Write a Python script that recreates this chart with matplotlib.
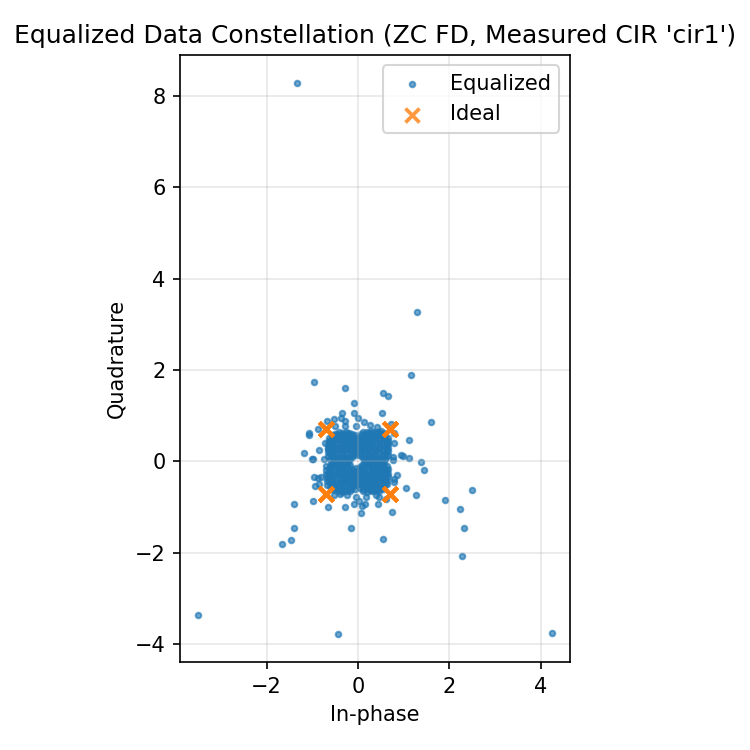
import matplotlib
matplotlib.use("Agg")
import matplotlib.pyplot as plt

# Scattered equalized symbols
outer = [(-1.34,8.29),(1.30,3.27),(1.17,1.89),(-0.96,1.74),(-0.29,1.61),(0.54,1.50),(0.67,1.44),(-0.09,1.28),
 (-0.35,1.06),(-0.09,1.05),(0.52,1.06),(0.00,0.95),(1.59,0.85),(-0.37,0.95),(-0.53,0.92),(-0.29,0.88),(-0.68,0.88),
 (0.13,0.85),(0.27,0.79),(0.41,0.76),(0.72,0.81),(-0.87,0.71),(-1.07,0.63),(-1.07,0.58),(-0.03,0.77),(-0.29,0.77),
 (-0.51,0.77),(0.79,0.63),(1.11,0.47),(0.79,0.39),(-0.73,0.39),(-1.18,0.19),(-0.85,0.25),(-1.00,0.04),(-0.98,0.06),
 (-0.74,0.04),(-0.66,0.26),(0.94,0.13),(0.98,0.12),(1.13,0.08),(0.76,0.10),(0.76,0.03),(1.39,-0.01),(1.44,-0.18),
 (0.67,-0.16),(-0.69,-0.10),(-0.95,-0.34),(-0.80,-0.34),(-0.87,-0.36),(0.85,-0.31),(0.79,-0.39),(0.79,-0.45),
 (-0.94,-0.55),(1.06,-0.58),(1.28,-0.73),(1.90,-0.85),(-1.40,-0.93),(-0.98,-0.88),(-0.66,-0.99),(-0.29,-0.99),
 (-0.09,-0.94),(0.06,-1.14),(0.15,-0.94),(0.08,-0.98),(0.43,-0.94),(0.74,-1.12),(-1.40,-1.47),(-0.16,-1.47),
 (0.56,-1.70),(-0.53,-0.74),(-0.40,-0.72),(-0.24,-0.74),(-0.04,-0.79),(0.03,-0.87),(0.18,-0.79),(0.40,-0.74),
 (0.47,-0.79),(0.61,-0.83),(-0.84,-0.50),(2.28,-2.08),(2.32,-1.46),(2.24,-1.05),(2.50,-0.62),(-1.67,-1.80),
 (-1.47,-1.73),(-3.50,-3.37),(-0.43,-3.79),(4.25,-3.76)]

# Dense clouds around the four constellation points
cloud_q1 = [(0.09,0.10),(0.17,0.08),(0.25,0.11),(0.32,0.09),(0.40,0.10),(0.47,0.08),(0.55,0.11),(0.62,0.09),
 (0.07,0.17),(0.15,0.18),(0.23,0.16),(0.30,0.18),(0.38,0.17),(0.46,0.18),(0.53,0.16),(0.61,0.18),
 (0.09,0.25),(0.16,0.24),(0.24,0.26),(0.32,0.24),(0.39,0.25),(0.47,0.26),(0.55,0.24),(0.62,0.26),
 (0.07,0.32),(0.15,0.33),(0.23,0.31),(0.31,0.33),(0.38,0.32),(0.46,0.31),(0.54,0.33),(0.61,0.32),
 (0.09,0.40),(0.17,0.39),(0.24,0.41),(0.32,0.40),(0.40,0.39),(0.47,0.41),(0.55,0.40),(0.63,0.39),
 (0.08,0.47),(0.15,0.48),(0.23,0.46),(0.31,0.47),(0.38,0.48),(0.46,0.46),(0.54,0.48),(0.61,0.47),
 (0.10,0.55),(0.17,0.54),(0.25,0.56),(0.32,0.54),(0.40,0.55),(0.47,0.56),(0.55,0.54),(0.60,0.55),
 (0.16,0.60),(0.24,0.61),(0.31,0.60),(0.39,0.59),(0.46,0.61),(0.53,0.60)]
cloud_q2 = [(-0.13,0.10),(-0.20,0.09),(-0.28,0.11),(-0.35,0.08),(-0.43,0.10),(-0.50,0.09),(-0.57,0.11),
 (-0.09,0.17),(-0.16,0.18),(-0.24,0.16),(-0.32,0.18),(-0.39,0.17),(-0.47,0.16),(-0.54,0.18),(-0.60,0.17),
 (-0.08,0.25),(-0.15,0.24),(-0.23,0.26),(-0.30,0.24),(-0.38,0.25),(-0.46,0.26),(-0.53,0.24),(-0.60,0.25),
 (-0.09,0.32),(-0.17,0.33),(-0.24,0.31),(-0.32,0.33),(-0.40,0.32),(-0.47,0.31),(-0.55,0.33),(-0.61,0.32),
 (-0.08,0.40),(-0.15,0.39),(-0.23,0.41),(-0.31,0.40),(-0.38,0.39),(-0.46,0.41),(-0.54,0.40),(-0.60,0.39),
 (-0.09,0.47),(-0.17,0.48),(-0.24,0.46),(-0.32,0.47),(-0.40,0.48),(-0.47,0.46),(-0.55,0.48),(-0.59,0.46),
 (-0.10,0.54),(-0.16,0.55),(-0.24,0.53),(-0.31,0.55),(-0.39,0.54),(-0.46,0.55),(-0.53,0.53),
 (-0.22,0.59),(-0.29,0.60),(-0.37,0.58),(-0.45,0.60)]
cloud_q3 = [(-0.17,-0.09),(-0.24,-0.08),(-0.32,-0.10),(-0.39,-0.09),(-0.47,-0.10),(-0.54,-0.08),(-0.61,-0.10),
 (-0.12,-0.16),(-0.19,-0.17),(-0.27,-0.15),(-0.35,-0.17),(-0.42,-0.16),(-0.50,-0.17),(-0.58,-0.15),(-0.64,-0.17),
 (-0.10,-0.24),(-0.18,-0.23),(-0.25,-0.25),(-0.33,-0.23),(-0.41,-0.24),(-0.48,-0.25),(-0.56,-0.23),(-0.63,-0.25),
 (-0.11,-0.31),(-0.19,-0.32),(-0.26,-0.30),(-0.34,-0.32),(-0.42,-0.31),(-0.49,-0.30),(-0.57,-0.32),(-0.66,-0.31),
 (-0.10,-0.39),(-0.17,-0.38),(-0.25,-0.40),(-0.33,-0.39),(-0.40,-0.38),(-0.48,-0.40),(-0.56,-0.39),(-0.63,-0.38),
 (-0.09,-0.46),(-0.17,-0.47),(-0.24,-0.45),(-0.32,-0.46),(-0.40,-0.47),(-0.47,-0.45),(-0.55,-0.47),(-0.62,-0.46),
 (-0.10,-0.54),(-0.18,-0.53),(-0.26,-0.55),(-0.33,-0.53),(-0.41,-0.54),(-0.49,-0.55),(-0.56,-0.53),
 (-0.14,-0.61),(-0.22,-0.60),(-0.30,-0.62),(-0.37,-0.60),(-0.45,-0.61)]
cloud_q4 = [(0.09,-0.08),(0.16,-0.09),(0.24,-0.07),(0.31,-0.09),(0.39,-0.08),(0.46,-0.10),(0.54,-0.08),
 (0.07,-0.16),(0.14,-0.15),(0.22,-0.17),(0.30,-0.15),(0.37,-0.16),(0.45,-0.17),(0.52,-0.15),(0.59,-0.17),
 (0.09,-0.23),(0.16,-0.24),(0.24,-0.22),(0.32,-0.24),(0.39,-0.23),(0.47,-0.22),(0.54,-0.24),(0.60,-0.23),
 (0.07,-0.31),(0.15,-0.30),(0.23,-0.32),(0.30,-0.31),(0.38,-0.30),(0.46,-0.32),(0.53,-0.31),(0.61,-0.30),
 (0.09,-0.38),(0.17,-0.39),(0.24,-0.37),(0.32,-0.39),(0.40,-0.38),(0.47,-0.37),(0.55,-0.39),(0.60,-0.38),
 (0.07,-0.46),(0.15,-0.45),(0.23,-0.47),(0.31,-0.46),(0.38,-0.45),(0.46,-0.47),(0.54,-0.46),(0.59,-0.45),
 (0.09,-0.53),(0.17,-0.54),(0.24,-0.52),(0.32,-0.54),(0.40,-0.53),(0.47,-0.52),(0.54,-0.54),
 (0.11,-0.61),(0.19,-0.60),(0.27,-0.62),(0.34,-0.60),(0.42,-0.61),(0.49,-0.60),(0.20,-0.67),(0.30,-0.66)]

# Symbols lying between the four clouds and along their outer rims
cloud_rim = [(0.04,0.13),(0.03,0.22),(0.05,0.29),(0.03,0.37),(0.04,0.45),(0.05,0.52),(0.07,0.59),
 (-0.05,0.14),(-0.04,0.21),(-0.05,0.30),(-0.03,0.36),(-0.05,0.44),(-0.04,0.51),(-0.06,0.58),
 (-0.05,-0.14),(-0.04,-0.22),(-0.06,-0.29),(-0.05,-0.37),(-0.04,-0.44),(-0.05,-0.52),(-0.07,-0.60),
 (0.04,-0.12),(0.03,-0.20),(0.04,-0.27),(0.03,-0.35),(0.04,-0.42),(0.03,-0.50),(0.05,-0.58),
 (0.13,0.05),(0.21,0.04),(0.29,0.06),(0.36,0.04),(0.44,0.05),(0.51,0.04),(0.59,0.06),
 (-0.17,0.05),(-0.24,0.04),(-0.32,0.06),(-0.39,0.04),(-0.47,0.05),(-0.54,0.04),(-0.61,0.06),
 (-0.21,-0.04),(-0.28,-0.03),(-0.36,-0.05),(-0.43,-0.03),(-0.50,-0.04),(-0.58,-0.05),
 (0.13,-0.03),(0.20,-0.04),(0.28,-0.03),(0.35,-0.04),(0.43,-0.03),(0.50,-0.05),(0.58,-0.04),
 (0.11,0.65),(0.20,0.64),(0.28,0.66),(0.36,0.65),(0.44,0.64),(0.51,0.66),(0.58,0.63),
 (-0.13,0.60),(-0.19,0.63),(-0.27,0.64),(-0.34,0.63),(-0.42,0.64),(-0.50,0.60),(-0.56,0.58),
 (-0.18,-0.66),(-0.26,-0.65),(-0.34,-0.67),(-0.41,-0.65),(-0.50,-0.62),(-0.57,-0.60),(-0.61,-0.54),
 (0.38,-0.66),(0.46,-0.65),(0.54,-0.60),(0.59,-0.53),(0.11,-0.66),
 (0.66,0.14),(0.66,0.22),(0.67,0.30),(0.67,0.37),(0.67,0.45),(0.65,0.52),
 (-0.65,0.12),(-0.65,0.21),(-0.66,0.30),(-0.65,0.37),(-0.64,0.44),(-0.63,0.52),
 (-0.69,-0.20),(-0.69,-0.28),(-0.68,-0.36),(-0.68,-0.43),(-0.67,-0.51),
 (0.64,-0.10),(0.64,-0.21),(0.65,-0.28),(0.65,-0.35),(0.64,-0.43),(0.63,-0.50)]

# Ideal QPSK points, one per transmitted block
ideal_i = [0.707, -0.707, 0.707, -0.707] * 8
ideal_q = [0.707, 0.707, -0.707, -0.707] * 8

points = outer + cloud_q1 + cloud_q2 + cloud_q3 + cloud_q4 + cloud_rim
eq_i = [p[0] for p in points]
eq_q = [p[1] for p in points]

fig, ax = plt.subplots(figsize=(5, 5), dpi=150)
ax.scatter(eq_i, eq_q, s=7, alpha=0.65, label="Equalized")
ax.scatter(ideal_i, ideal_q, marker="x", s=45, linewidths=1.8, alpha=0.8, label="Ideal")
ax.set_aspect("equal", adjustable="box")
ax.grid(True, alpha=0.3)
ax.set_xlabel("In-phase")
ax.set_ylabel("Quadrature")
ax.set_title("Equalized Data Constellation (ZC FD, Measured CIR 'cir1')")
ax.legend(loc="upper right")
fig.subplots_adjust(left=180/750, right=570/750, top=1-55/750, bottom=1-662/750)
fig.savefig("out.png")
